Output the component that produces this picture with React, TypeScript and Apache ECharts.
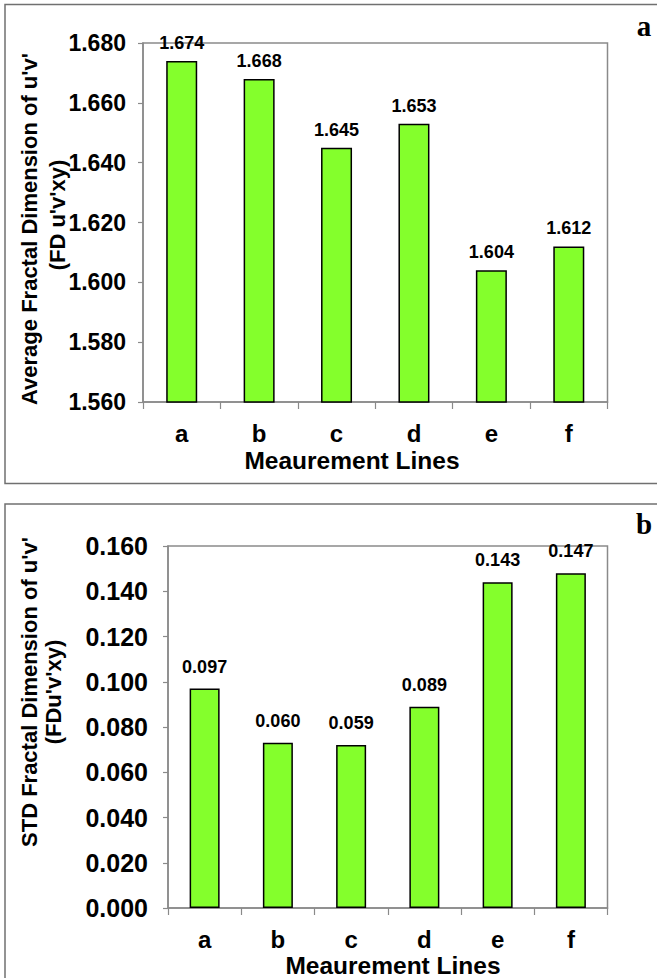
import React, { useEffect, useRef } from "react";
import * as echarts from "echarts";

const categories = ["a", "b", "c", "d", "e", "f"];
const avgValues = [1.674, 1.668, 1.645, 1.653, 1.604, 1.612];
const avgLabels = ["1.674", "1.668", "1.645", "1.653", "1.604", "1.612"];
// bar heights as drawn in the picture (b and c are drawn taller than their printed labels)
const stdValues = [0.097, 0.073, 0.072, 0.089, 0.144, 0.148];
const stdLabels = ["0.097", "0.060", "0.059", "0.089", "0.143", "0.147"];
const xAxisTitle = "Meaurement Lines";
const avgTitleLines = ["Average Fractal Dimension of u'v'", "(FD u'v'xy)"];
const stdTitleLines = ["STD Fractal Dimension of u'v'", "(FDu'v'xy)"];
const panelLetters = ["a", "b"];

const FONT = "Liberation Sans, Arial, Helvetica, sans-serif";
const BAR = "#84ff2c";
const GRAYLINE = "#8a8a8a";

export default function App() {
  const ref = useRef<HTMLDivElement>(null);
  useEffect(() => {
    document.body.style.margin = "0";
    const chart = echarts.init(ref.current!, null, { renderer: "svg" });
    const tickStyle = {
      fontFamily: FONT,
      fontWeight: "bold" as const,
      fontSize: 23,
      color: "#000",
    };
    const xAxisCommon = {
      type: "category" as const,
      data: categories,
      axisLine: { lineStyle: { color: GRAYLINE, width: 1.5 } },
      axisTick: { show: true, length: 7, lineStyle: { color: GRAYLINE, width: 1.2 } },
      axisLabel: { ...tickStyle, fontSize: 24, margin: 19 },
    };
    const yAxisCommon = {
      type: "value" as const,
      axisLine: { show: true, lineStyle: { color: GRAYLINE, width: 1.5 } },
      axisTick: { show: true, length: 5, lineStyle: { color: GRAYLINE, width: 1.2 } },
      splitLine: { show: false },
    };
    const titleText = (text: string, x: number, y: number, size = 22) => ({
      type: "text",
      x,
      y,
      rotation: Math.PI / 2,
      style: {
        text,
        fontFamily: FONT,
        fontWeight: "bold",
        fontSize: size,
        fill: "#000",
        textAlign: "center",
        textVerticalAlign: "middle",
      },
    });
    const hText = (text: string, x: number, y: number, size = 24.5) => ({
      type: "text",
      x,
      y,
      style: {
        text,
        fontFamily: FONT,
        fontWeight: "bold",
        fontSize: size,
        fill: "#000",
        textAlign: "center",
        textVerticalAlign: "middle",
      },
    });
    const letter = (text: string, x: number, y: number) => ({
      type: "text",
      x,
      y,
      style: {
        text,
        fontFamily: "Liberation Serif, Times New Roman, serif",
        fontWeight: "bold",
        fontSize: 29,
        fill: "#000",
        textAlign: "center",
        textVerticalAlign: "middle",
      },
    });
    const dataLabel = (labels: string[], distance: number) => ({
      show: true,
      position: "top",
      distance,
      fontFamily: FONT,
      fontWeight: "bold",
      fontSize: 18,
      color: "#000",
      formatter: (p: any) => labels[p.dataIndex],
    });
    chart.setOption({
      animation: false,
      backgroundColor: "#fff",
      grid: [
        { left: 143, top: 43, width: 464.5, height: 359, show: true, borderColor: GRAYLINE, borderWidth: 1.5, containLabel: false },
        { left: 168, top: 546, width: 439.5, height: 362, show: true, borderColor: GRAYLINE, borderWidth: 1.5, containLabel: false },
      ],
      xAxis: [
        { ...xAxisCommon, gridIndex: 0 },
        { ...xAxisCommon, gridIndex: 1 },
      ],
      yAxis: [
        {
          ...yAxisCommon,
          gridIndex: 0,
          min: 1.56,
          max: 1.68,
          interval: 0.02,
          axisLabel: { ...tickStyle, margin: 17, formatter: (v: number) => v.toFixed(3) },
        },
        {
          ...yAxisCommon,
          gridIndex: 1,
          min: 0,
          max: 0.16,
          interval: 0.02,
          axisLabel: { ...tickStyle, fontSize: 25, margin: 20, formatter: (v: number) => v.toFixed(3) },
        },
      ],
      series: [
        {
          type: "bar",
          xAxisIndex: 0,
          yAxisIndex: 0,
          data: avgValues,
          barWidth: 31,
          itemStyle: { color: BAR, borderColor: "#000", borderWidth: 1.5 },
          label: dataLabel(avgLabels, 9),
        },
        {
          type: "bar",
          xAxisIndex: 1,
          yAxisIndex: 1,
          data: stdValues,
          barWidth: 30,
          itemStyle: { color: BAR, borderColor: "#000", borderWidth: 1.5 },
          label: dataLabel(stdLabels, 13),
        },
      ],
      graphic: [
        {
          type: "rect",
          shape: { x: 5, y: 4.5, width: 660, height: 479 },
          style: { fill: "none", stroke: "#707070", lineWidth: 1.5 },
          silent: true,
        },
        {
          type: "rect",
          shape: { x: 5, y: 504, width: 660, height: 500 },
          style: { fill: "none", stroke: "#707070", lineWidth: 1.5 },
          silent: true,
        },
        titleText(avgTitleLines[0], 29, 229),
        titleText(avgTitleLines[1], 57, 215),
        titleText(stdTitleLines[0], 29, 692),
        titleText(stdTitleLines[1], 53, 692),
        hText(xAxisTitle, 352, 460),
        hText(xAxisTitle, 393, 965),
        letter(panelLetters[0], 644, 26),
        letter(panelLetters[1], 644, 524),
      ],
    });
    return () => chart.dispose();
  }, []);
  return <div ref={ref} style={{ width: 657, height: 978 }} />;
}
